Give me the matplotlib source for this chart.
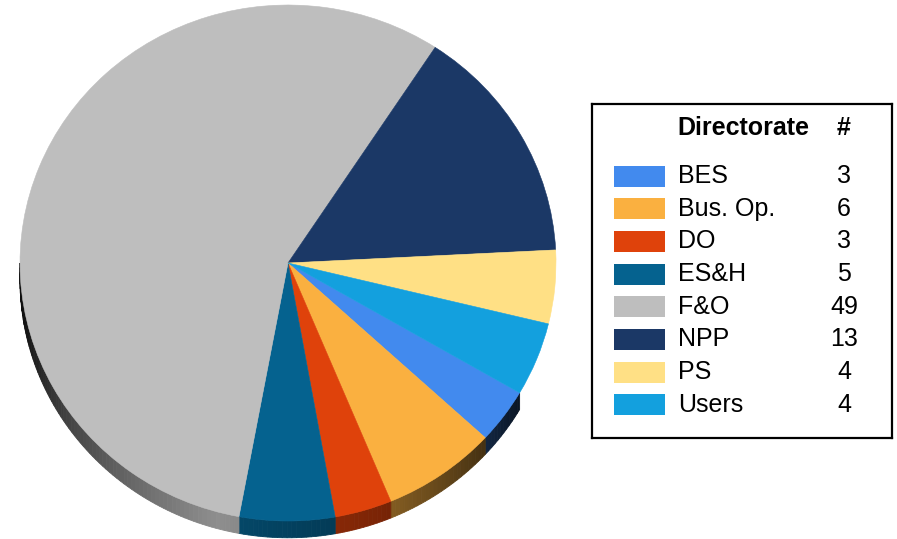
"""
Directorate pie chart (3D-ish pie + table legend)
"""
import numpy as np
import matplotlib
matplotlib.use('Agg')
import matplotlib.pyplot as plt
from matplotlib.patches import Wedge, Polygon, Rectangle
from matplotlib.colors import to_rgb

plt.rcParams['font.family'] = ['Liberation Sans', 'DejaVu Sans']

directorates = ['BES', 'Bus. Op.', 'DO', 'ES&H', 'F&O', 'NPP', 'PS', 'Users']
counts = [3, 6, 3, 5, 49, 13, 4, 4]
colors = ['#428AEE', '#FAB040', '#DF420B', '#05628F', '#BEBEBE', '#1B3866', '#FFE085', '#13A0DE']

START_ANGLE = -30.2   # BES starts here, slices go clockwise
DEPTH = 0.065         # side thickness of the pie (in y units of the top face)

W, H = 897, 539
fig = plt.figure(figsize=(W / 100, H / 100), dpi=100)

# pie axes: unit circle mapped onto the elliptical top face
cx, cy, rx, ry = 288, 263, 268, 258
ax = fig.add_axes([(cx - rx) / W, (H - cy - ry) / H, 2 * rx / W, 2 * ry / H])
ax.set_xlim(-1, 1)
ax.set_ylim(-1, 1)
ax.set_aspect('auto')
ax.axis('off')

# slice angles
total = sum(counts)
cum = np.concatenate([[0], np.cumsum(counts)]) / total * 360
angles = [(START_ANGLE - cum[i + 1], START_ANGLE - cum[i]) for i in range(len(counts))]

# shade of the side wall depending on angle (left dark, bottom lighter)
shade_ang = [180, 195, 215, 255, 290, 310, 330, 360]
shade_val = [0.05, 0.12, 0.35, 0.75, 0.55, 0.35, 0.15, 0.1]

def side_shade(a):
    a = a % 360
    return np.interp(a, shade_ang, shade_val)

# side wall
for (a1, a2), col in zip(angles, colors):
    base = np.array(to_rgb(col))
    for k in range(-1, 2):
        lo = max(a1, 180 + 360 * k)
        hi = min(a2, 360 + 360 * k)
        if hi <= lo:
            continue
        steps = np.linspace(lo, hi, max(2, int((hi - lo) / 1.0) + 1))
        for t1, t2 in zip(steps[:-1], steps[1:]):
            r1, r2 = np.radians(t1), np.radians(t2)
            pts = [(np.cos(r1), np.sin(r1)), (np.cos(r2), np.sin(r2)),
                   (np.cos(r2), np.sin(r2) - DEPTH), (np.cos(r1), np.sin(r1) - DEPTH)]
            f = side_shade((t1 + t2) / 2)
            ax.add_patch(Polygon(pts, closed=True, facecolor=base * f,
                                 edgecolor=base * f, linewidth=0.6, clip_on=False))

# top face
for (a1, a2), col in zip(angles, colors):
    ax.add_patch(Wedge((0, 0), 1, a1, a2, facecolor=col, edgecolor=col,
                       linewidth=0.4, clip_on=False))

# legend table
lx0, ly0, lw, lh = 592, 104, 300, 334
lax = fig.add_axes([lx0 / W, (H - ly0 - lh) / H, lw / W, lh / H])
lax.set_xlim(0, lw)
lax.set_ylim(lh, 0)
lax.set_xticks([])
lax.set_yticks([])
for sp in lax.spines.values():
    sp.set_linewidth(1.6)
    sp.set_color('black')

fs = 18
lax.text(85, 24, 'Directorate', fontsize=fs, fontweight='bold', va='center', ha='left')
lax.text(252, 24, '#', fontsize=fs, fontweight='bold', va='center', ha='center')
row_y0, row_step = 72, 32.7
for i, (name, n, col) in enumerate(zip(directorates, counts, colors)):
    y = row_y0 + i * row_step
    lax.add_patch(Rectangle((22, y - 10.5), 51, 21, facecolor=col, edgecolor='none'))
    lax.text(86, y, name, fontsize=fs, va='center', ha='left')
    lax.text(252, y, str(n), fontsize=fs, va='center', ha='center')

fig.savefig('out.png', dpi=100)
